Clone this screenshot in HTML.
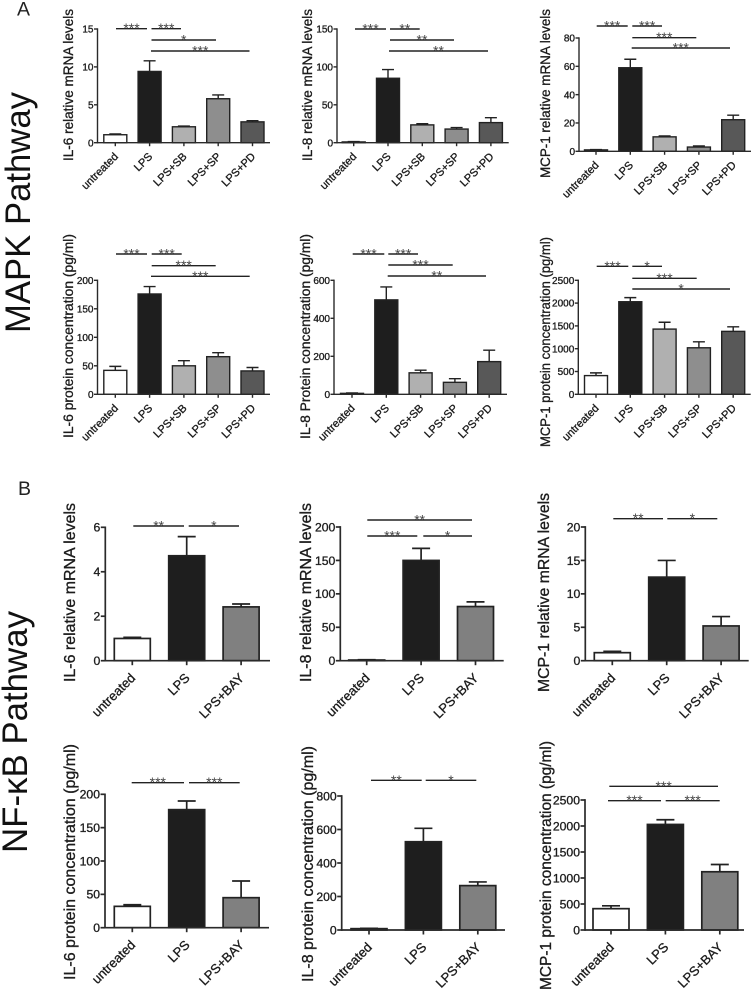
<!DOCTYPE html>
<html lang="en">
<head>
<meta charset="utf-8">
<title>MAPK and NF-κB pathway bar charts</title>
<style>
html,body{margin:0;padding:0;background:#fff}
svg{display:block;font-family:"Liberation Sans",Arial,sans-serif;filter:blur(.35px)}
.axis{stroke:#2a2a2a;fill:none}
.lbl{fill:#1c1c1c;stroke:#1c1c1c;stroke-width:.32}
.star{fill:#444;font-size:14px}
</style>
</head>
<body>
<svg id="fig" width="753" height="992" viewBox="0 0 753 992" xmlns="http://www.w3.org/2000/svg">
<text x="17" y="15.5" font-size="19.5" fill="#222">A</text>
<text x="18" y="495" font-size="19.5" fill="#222">B</text>
<text transform="translate(30,333) rotate(-90)" font-size="35" fill="#111" textLength="241" lengthAdjust="spacingAndGlyphs">MAPK Pathway</text>
<text transform="translate(27,853) rotate(-90)" font-size="35" fill="#111" textLength="242" lengthAdjust="spacingAndGlyphs">NF-κB Pathway</text>
</svg>
<script>
const categoriesA = ['untreated', 'LPS', 'LPS+SB', 'LPS+SP', 'LPS+PD'];
const categoriesB = ['untreated', 'LPS', 'LPS+BAY'];

const il6MrnaA = [1.05, 9.4, 2.1, 5.8, 2.75];
const il6MrnaAErr = [0.1, 1.4, 0.1, 0.5, 0.15];
const il6MrnaATicks = [0, 5, 10, 15];

const il8MrnaA = [1, 85, 23.5, 18, 26.5];
const il8MrnaAErr = [0.5, 11.5, 1.5, 2, 6.5];
const il8MrnaATicks = [0, 50, 100, 150];

const mcp1MrnaA = [1, 59, 10.2, 3, 22.3];
const mcp1MrnaAErr = [0.2, 6, 0.6, 0.8, 3.2];
const mcp1MrnaATicks = [0, 20, 40, 60, 80];

const il6ProteinA = [42, 176, 50, 66, 41];
const il6ProteinAErr = [7, 13, 9, 7, 6];
const il6ProteinATicks = [0, 50, 100, 150, 200];

const il8ProteinA = [5, 497, 113, 63, 172];
const il8ProteinAErr = [2, 68, 14, 19, 60];
const il8ProteinATicks = [0, 200, 400, 600];

const mcp1ProteinA = [410, 2030, 1430, 1020, 1380];
const mcp1ProteinAErr = [60, 90, 150, 130, 100];
const mcp1ProteinATicks = [0, 500, 1000, 1500, 2000, 2500];

const il6MrnaB = [1, 4.72, 2.42];
const il6MrnaBErr = [0.05, 0.86, 0.13];
const il6MrnaBTicks = [0, 2, 4, 6];

const il8MrnaB = [1, 150, 81];
const il8MrnaBErr = [0.5, 18, 7];
const il8MrnaBTicks = [0, 50, 100, 150, 200];

const mcp1MrnaB = [1.2, 12.5, 5.2];
const mcp1MrnaBErr = [0.2, 2.5, 1.4];
const mcp1MrnaBTicks = [0, 5, 10, 15, 20];

const il6ProteinB = [32, 177, 45];
const il6ProteinBErr = [2.5, 13, 25];
const il6ProteinBTicks = [0, 50, 100, 150, 200];

const il8ProteinB = [8, 527, 265];
const il8ProteinBErr = [2, 80, 22];
const il8ProteinBTicks = [0, 200, 400, 600, 800];

const mcp1ProteinB = [410, 2030, 1120];
const mcp1ProteinBErr = [55, 90, 140];
const mcp1ProteinBTicks = [0, 500, 1000, 1500, 2000, 2500];

const fillsA = ['#ffffff', '#1e1e1e', '#b0b0b0', '#8e8e8e', '#585858'];
const fillsB = ['#ffffff', '#1e1e1e', '#808080'];

const frameA = {cats: categoriesA, fills: fillsA, step: 34.3, barW: 23, font: 10, xFont: 11, xdx: 3.5, xdy: 14.5, tick: 3.5, sw: 1.4, errCap: 12, titleFont: 13.9};
const frameB = {cats: categoriesB, fills: fillsB, step: 54.4, barW: 36, font: 12.2, xFont: 13, xdx: 3.8, xdy: 18, tick: 4.5, sw: 1.7, errCap: 18, titleFont: 16};

const panels = [
  {id: 'il6-mrna-a', f: frameA, v: il6MrnaA, e: il6MrnaAErr, t: il6MrnaATicks, title: 'IL-6 relative mRNA levels', ax: 97.5, top: 29, y0: 142.7, c0: 115.3, end: 270, tx: 73, t1: 9, t2: 161,
   sig: [[116, 147, 28.7, '***'], [151.5, 181, 28.7, '***'], [151.5, 216, 40, '*'], [151, 249.5, 51, '***']]},
  {id: 'il8-mrna-a', f: frameA, v: il8MrnaA, e: il8MrnaAErr, t: il8MrnaATicks, title: 'IL-8 relative mRNA levels', ax: 337, top: 29, y0: 142.7, c0: 353.7, end: 508.7, tx: 312, t1: 9, t2: 161,
   sig: [[355, 386, 29, '***'], [390, 419.7, 29, '**'], [390, 454, 40, '**'], [389, 488, 51, '**']]},
  {id: 'mcp1-mrna-a', f: frameA, v: mcp1MrnaA, e: mcp1MrnaAErr, t: mcp1MrnaATicks, title: 'MCP-1 relative mRNA levels', ax: 579, top: 38, y0: 151.3, c0: 596, end: 751, tx: 550, t1: 9, t2: 178,
   sig: [[596.7, 627.7, 26, '***'], [632.3, 662, 26, '***'], [632.3, 696.3, 37.7, '***'], [631.7, 730, 48, '***']]},
  {id: 'il6-protein-a', f: frameA, v: il6ProteinA, e: il6ProteinAErr, t: il6ProteinATicks, title: 'IL-6 protein concentration (pg/ml)', ax: 97.5, top: 280.3, y0: 394.3, c0: 115.3, end: 270, tx: 73, t1: 234, t2: 438,
   sig: [[116, 147, 254, '***'], [151.7, 181.7, 254, '***'], [151.7, 215.7, 265.7, '***'], [151, 249.7, 276.3, '***']]},
  {id: 'il8-protein-a', f: frameA, v: il8ProteinA, e: il8ProteinAErr, t: il8ProteinATicks, title: 'IL-8 Protein concentration (pg/ml)', ax: 334, top: 280.3, y0: 394.3, c0: 352, end: 507, tx: 310, t1: 234, t2: 439,
   sig: [[352.7, 384.3, 254, '***'], [388.3, 418, 254, '***'], [388.3, 452.7, 265, '***'], [387.7, 486, 276, '**']]},
  {id: 'mcp1-protein-a', f: frameA, v: mcp1ProteinA, e: mcp1ProteinAErr, t: mcp1ProteinATicks, title: 'MCP-1 protein concentration (pg/ml)', ax: 578.3, top: 280.3, y0: 394.3, c0: 596, end: 750.7, tx: 550, t1: 237, t2: 447,
   sig: [[596.7, 628.3, 266.3, '***'], [632.3, 662, 266.3, '*'], [632.3, 696.7, 278.3, '***'], [632.3, 730, 289, '*']]},
  {id: 'il6-mrna-b', f: frameB, v: il6MrnaB, e: il6MrnaBErr, t: il6MrnaBTicks, title: 'IL-6 relative mRNA levels', ax: 105.3, top: 527.3, y0: 660.7, c0: 132.3, end: 270, tx: 75, t1: 503, t2: 682,
   sig: [[133.3, 184, 526, '**'], [188.7, 239, 526, '*']]},
  {id: 'il8-mrna-b', f: frameB, v: il8MrnaB, e: il8MrnaBErr, t: il8MrnaBTicks, title: 'IL-8 relative mRNA levels', ax: 340.3, top: 527, y0: 660.7, c0: 366.7, end: 503.7, tx: 311, t1: 503, t2: 682,
   sig: [[367.3, 472, 520, '**'], [367.3, 417.3, 536, '***'], [423.3, 472, 536, '*']]},
  {id: 'mcp1-mrna-b', f: frameB, v: mcp1MrnaB, e: mcp1MrnaBErr, t: mcp1MrnaBTicks, title: 'MCP-1 relative mRNA levels', ax: 585.3, top: 527, y0: 660.7, c0: 612.3, end: 748.7, tx: 549, t1: 493, t2: 692,
   sig: [[613.3, 663, 518.7, '**'], [667.3, 717.3, 518.7, '*']]},
  {id: 'il6-protein-b', f: frameB, v: il6ProteinB, e: il6ProteinBErr, t: il6ProteinBTicks, title: 'IL-6 protein concentration (pg/ml)', ax: 105, top: 794.3, y0: 927.7, c0: 132.3, end: 269, tx: 75, t1: 744, t2: 980,
   sig: [[131.7, 184, 782.7, '***'], [189, 239.7, 782.7, '***']]},
  {id: 'il8-protein-b', f: frameB, v: il8ProteinB, e: il8ProteinBErr, t: il8ProteinBTicks, title: 'IL-8 protein concentration (pg/ml)', ax: 341.7, top: 796, y0: 930, c0: 369, end: 505, tx: 313, t1: 746, t2: 982,
   sig: [[371, 421.7, 780.3, '**'], [425.7, 476.3, 780.3, '*']]},
  {id: 'mcp1-protein-b', f: frameB, v: mcp1ProteinB, e: mcp1ProteinBErr, t: mcp1ProteinBTicks, title: 'MCP-1 protein concentration (pg/ml)', ax: 585, top: 800, y0: 930, c0: 611, end: 744, tx: 551, t1: 741, t2: 990,
   sig: [[609.3, 718, 786.3, '***'], [608, 661, 800.7, '***'], [665.7, 719.7, 800.7, '***']]}
];

const svg = document.getElementById('fig');
const NS = 'http://www.w3.org/2000/svg';

function make(tag, parent, attrs, text) {
  const el = document.createElementNS(NS, tag);
  for (const k in attrs) el.setAttribute(k, attrs[k]);
  if (text !== undefined) el.textContent = text;
  parent.appendChild(el);
  return el;
}

function drawPanel(p) {
  const f = p.f;
  const maxTick = p.t[p.t.length - 1];
  const yScale = function (v) { return p.y0 - (v / maxTick) * (p.y0 - p.top); };
  const xScale = function (i) { return p.c0 + i * f.step; };

  const g = make('g', svg, {});
  
  

  const title = make('text', g, {transform: 'translate(' + p.tx + ',' + p.t2 + ') rotate(-90)', 'font-size': f.titleFont, textLength: p.t2 - p.t1, lengthAdjust: 'spacingAndGlyphs', class: 'lbl'}, p.title);
  
  

  p.v.forEach(function (val, i) {
    const x = xScale(i), y = yScale(val), w = f.barW;
    const top = yScale(val + p.e[i]);
    const err = make('path', g, {d: 'M' + x + ' ' + y + 'V' + top + 'M' + (x - f.errCap / 2) + ' ' + top + 'H' + (x + f.errCap / 2), stroke: '#222', 'stroke-width': f.sw, fill: 'none'});
    
    
    const bar = make('rect', g, {x: x - w / 2, y: y, width: w, height: Math.max(p.y0 - y, 0), fill: f.fills[i], stroke: '#222', 'stroke-width': f.sw});
    
    
  });

  const yAxis = make('line', g, {x1: p.ax, x2: p.ax, y1: p.top - f.sw / 2, y2: p.y0 + f.sw / 2, class: 'axis', 'stroke-width': f.sw});
  
  
  const xAxis = make('line', g, {x1: p.ax, x2: p.end, y1: p.y0, y2: p.y0, class: 'axis', 'stroke-width': f.sw});
  
  

  p.t.forEach(function (tv) {
    const y = yScale(tv);
    const tick = make('line', g, {x1: p.ax - f.tick, x2: p.ax, y1: y, y2: y, class: 'axis', 'stroke-width': f.sw});
    
    
    const lab = make('text', g, {x: p.ax - f.tick - 0.5, y: y + f.font * 0.36, 'text-anchor': 'end', 'font-size': f.font, class: 'lbl'}, String(tv));
    
    
  });

  f.cats.forEach(function (name, i) {
    const x = xScale(i);
    const tick = make('line', g, {x1: x, x2: x, y1: p.y0, y2: p.y0 + f.tick, class: 'axis', 'stroke-width': f.sw});
    
    
    const lab = make('text', g, {transform: 'translate(' + (x + f.xdx) + ',' + (p.y0 + f.xdy) + ') rotate(-45)', 'text-anchor': 'end', 'font-size': f.xFont, class: 'lbl'}, name);
    
    
  });

  p.sig.forEach(function (s) {
    const line = make('line', g, {x1: s[0], x2: s[1], y1: s[2], y2: s[2], stroke: '#222', 'stroke-width': 1.4});
    
    
    const star = make('text', g, {x: (s[0] + s[1]) / 2, y: s[2] + 4.5, 'text-anchor': 'middle', class: 'star'}, s[3]);
    
    
  });
}

panels.forEach(drawPanel);
</script>
</body>
</html>
